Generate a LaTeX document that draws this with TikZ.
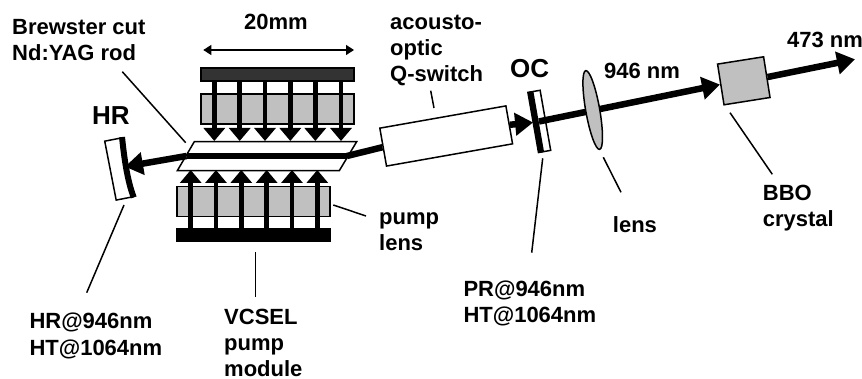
\documentclass[tikz,border=0pt]{standalone}
\usepackage{fontspec}
\setmainfont{Liberation Sans}
\usepackage{xcolor}
\usepackage{tikz}
\usetikzlibrary{arrows.meta}
\usetikzlibrary{shapes.geometric}
\definecolor{optgray}{RGB}{192,192,192}
\definecolor{darkbar}{RGB}{51,51,51}

\begin{document}
\begin{tikzpicture}[x=1pt, y=-1pt]
    \tikzstyle{lbl}=[inner sep=0pt, anchor=base west, align=left, font=\fontsize{22}{26}\selectfont\bfseries]
    \tikzstyle{biglbl}=[inner sep=0pt, anchor=base west, font=\fontsize{26}{30}\selectfont\bfseries]
    \tikzstyle{lenspart}=[rectangle, draw, line width=1.5pt, fill=optgray, inner sep=0pt, minimum width=153pt, minimum height=30pt]
    \tikzstyle{vcsel}=[rectangle, draw, line width=1.5pt, inner sep=0pt, minimum width=153pt, minimum height=13pt]
    \tikzstyle{optic}=[rectangle, draw, line width=1.5pt, fill=white, inner sep=0pt]
    \tikzstyle{pumparrow}=[-{Triangle[width=21pt, length=13pt]}, line width=4.7pt]
    \tikzstyle{beam}=[line width=6.5pt]
    \tikzstyle{beamarrow}=[-{Triangle[width=22pt, length=18pt]}, line width=6.5pt]
    \tikzstyle{leader}=[line width=1.5pt]

    \useasboundingbox (0,0) rectangle (862,379);

    % pump modules
    \node[lenspart] (toplens) at (277.5,109) {};
    \node[vcsel, fill=darkbar] (topbar) at (277.5,74.5) {};
    \node[lenspart] (botlens) at (253.5,201.7) {};
    \node[vcsel, fill=black] (botbar) at (253.5,235) {};

    % rod
    \coordinate (rodnw) at (194.3,141.7);
    \coordinate (rodne) at (356.7,141.7);
    \coordinate (rodse) at (339.3,170.7);
    \coordinate (rodsw) at (177.3,170.7);
    \draw[line width=1.5pt, fill=white] (rodnw) -- (rodne) -- (rodse) -- (rodsw) -- cycle;
    \node[rectangle, fill=black, inner sep=0pt, minimum width=160pt, minimum height=6pt] (rodcore) at (266.7,156) {};

    \foreach \x [count=\i] in {214.3,239.7,265,290.3,315.3,341} {
        \coordinate (pumptop\i) at (\x,81);
        \coordinate (rodtop\i) at (\x,141);
        \draw[pumparrow] (pumptop\i) -- (rodtop\i);
    }
    \foreach \x [count=\i] in {190.7,216,241.3,266.7,292,317.3} {
        \coordinate (pumpbot\i) at (\x,228.5);
        \coordinate (rodbot\i) at (\x,170);
        \draw[pumparrow] (pumpbot\i) -- (rodbot\i);
    }

    % cavity parts
    \node[optic, rotate=11, minimum width=17pt, minimum height=60pt] (hrmirror) at (118.8,169) {};
    \draw[line width=6pt] (hrmirror.north east) .. controls (124,156) and (127,180) .. (hrmirror.south east);
    \node[optic, rotate=10, minimum width=128pt, minimum height=38.5pt] (qswitch) at (446.2,136) {};
    \node[optic, rotate=10, minimum width=12.4pt, minimum height=61pt] (ocmirror) at (539.3,121.4) {};
    \node[rectangle, fill=black, rotate=10, inner sep=0pt, minimum width=5.5pt, minimum height=62pt] (ocstrip) at (536,122) {};
    \node[optic, fill=optgray, rotate=9, minimum width=46.6pt, minimum height=41.2pt] (crystal) at (743.8,80.8) {};
    \coordinate (hrtip) at (125,166.7);
    \coordinate (outtip) at (855,59.3);

    % beam
    \draw[beamarrow] (rodcore.west) -- (hrtip);
    \draw[beam] (rodcore.east) -- (qswitch.west);
    \draw[beamarrow] (qswitch.east) -- (ocstrip.west);
    \draw[beamarrow] (ocstrip.east) -- (crystal.west);
    \draw[beamarrow] (crystal.east) -- (outtip);
    \node[ellipse, draw, line width=1.5pt, fill=optgray, rotate=10, inner sep=0pt, minimum width=14pt, minimum height=80pt] (lens) at (592.7,110) {};

    % 20mm
    \coordinate (dimleft) at (203.3,50);
    \coordinate (dimright) at (354,50);
    \draw[{Triangle[width=10pt, length=8pt]}-{Triangle[width=10pt, length=8pt]}, line width=1.2pt] (dimleft) -- (dimright);

    % labels
    \node[lbl] (dimlbl) at (244,29.3) {20mm};
    \node[lbl] (rodlbl) at (12,61) {Brewster cut\\Nd:YAG rod};
    \node[biglbl] (hrlbl) at (92,125) {HR};
    \node[biglbl] (oclbl) at (510,78) {OC};
    \node[lbl] (qlbl) at (390,81.7) {acousto-\\optic\\Q-switch};
    \node[lbl] (irlbl) at (604,78.3) {946 nm};
    \node[lbl] (bluelbl) at (787,47.3) {473 nm};
    \node[lbl] (bbolbl) at (762.7,227) {BBO\\crystal};
    \node[lbl] (lenslbl) at (612.7,232.7) {lens};
    \node[lbl] (pumplbl) at (379,250.7) {pump\\lens};
    \node[lbl] (prlbl) at (463.3,323) {PR@946nm\\HT@1064nm};
    \node[lbl] (hrcoat) at (29.3,355) {HR@946nm\\HT@1064nm};
    \node[lbl] (vcsellbl) at (224,376) {VCSEL\\pump\\module};

    % leaders
    \coordinate (l1a) at (122.3,71.7);
    \coordinate (l1b) at (185.7,142.7);
    \coordinate (l2a) at (124,205);
    \coordinate (l2b) at (86.7,292.7);
    \coordinate (l3a) at (255.3,252.3);
    \coordinate (l3b) at (255.3,297.3);
    \coordinate (l4a) at (333.3,205);
    \coordinate (l4b) at (366,216);
    \coordinate (l5a) at (430.7,90.7);
    \coordinate (l5b) at (434,108);
    \coordinate (l6a) at (542.7,158.3);
    \coordinate (l6b) at (531.7,252.7);
    \coordinate (l7a) at (603.3,157.3);
    \coordinate (l7b) at (621,192.3);
    \coordinate (l8a) at (730,112.7);
    \coordinate (l8b) at (772.3,174.3);
    \foreach \i in {1,...,8} {
        \draw[leader] (l\i a) -- (l\i b);
    }
\end{tikzpicture}
\end{document}
